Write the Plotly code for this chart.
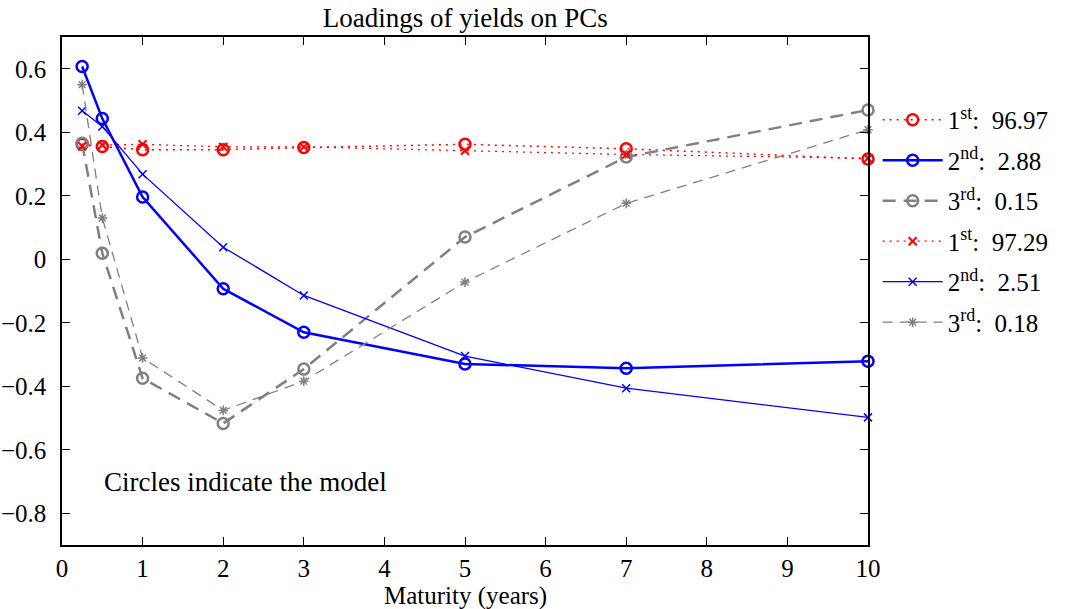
import plotly.graph_objects as go

# Maturities (years)
maturity = [0.25, 0.5, 1, 2, 3, 5, 7, 10]

# Model loadings (circles)
model_pc1 = [0.362, 0.355, 0.345, 0.345, 0.352, 0.362, 0.348, 0.316]
model_pc2 = [0.607, 0.443, 0.196, -0.093, -0.230, -0.330, -0.343, -0.321]
model_pc3 = [0.365, 0.019, -0.375, -0.517, -0.346, 0.070, 0.322, 0.470]

# Data loadings (crosses)
data_pc1 = [0.356, 0.360, 0.362, 0.354, 0.354, 0.342, 0.330, 0.318]
data_pc2 = [0.468, 0.418, 0.268, 0.038, -0.114, -0.305, -0.406, -0.498]
data_pc3 = [0.550, 0.130, -0.311, -0.476, -0.384, -0.072, 0.176, 0.408]

SUP = '<sup><span style="font-size:18px">{}</span></sup>'
legend_names = [
    "1" + SUP.format("st") + ":  96.97",
    "2" + SUP.format("nd") + ":  2.88",
    "3" + SUP.format("rd") + ":  0.15",
    "1" + SUP.format("st") + ":  97.29",
    "2" + SUP.format("nd") + ":  2.51",
    "3" + SUP.format("rd") + ":  0.18",
]

RED, BLUE, GRAY = "#ff0000", "#0000ff", "#808080"
FONT = "Liberation Serif"
DOT = "2px,5px"

fig = go.Figure()

series = [
    (model_pc1, legend_names[0], RED, DOT, 1.5, "circle-open", 11, 2.5),
    (model_pc2, legend_names[1], BLUE, "solid", 2.5, "circle-open", 11, 2.5),
    (model_pc3, legend_names[2], GRAY, "13px,8px", 2.5, "circle-open", 11, 2.5),
    (data_pc1, legend_names[3], RED, DOT, 1.2, "x-thin-open", 8, 2),
    (data_pc2, legend_names[4], BLUE, "solid", 1.3, "x-thin-open", 8, 1.5),
    (data_pc3, legend_names[5], GRAY, "10px,7px", 1.3, "asterisk-open", 8, 1.5),
]

for i, (y, name, col, dash, lw, sym, ms, mlw) in enumerate(series):
    fig.add_trace(go.Scatter(
        x=maturity, y=y, name=name, mode="lines+markers",
        legendgroup=f"g{i}",
        line=dict(color=col, dash=dash, width=lw),
        marker=dict(symbol=sym, size=ms, color=col, line=dict(color=col, width=mlw)),
        cliponaxis=False,
    ))

fig.add_annotation(
    x=0.5, y=-0.703, xref="x", yref="y", text="Circles indicate the model",
    showarrow=False, xanchor="left", yanchor="middle",
    font=dict(family=FONT, size=27, color="black"),
)

# x-axis title placed just below the tick labels
fig.add_annotation(
    x=0.5, y=-0.1, xref="paper", yref="paper", text="Maturity (years)",
    showarrow=False, xanchor="center", yanchor="middle",
    font=dict(family=FONT, size=25, color="black"),
)

axis_common = dict(
    showgrid=False, zeroline=False, showline=True, linecolor="black", linewidth=1.5,
    mirror="ticks", ticks="inside", ticklen=8, tickwidth=1, tickcolor="black",
    tickfont=dict(family=FONT, size=25, color="black"), automargin=False,
)

fig.update_xaxes(range=[0, 10], tickvals=list(range(0, 11)), ticklabelstandoff=0, **axis_common)
fig.update_yaxes(
    range=[-0.9, 0.7], tickvals=[-0.8, -0.6, -0.4, -0.2, 0, 0.2, 0.4, 0.6],
    ticklabelstandoff=9,
    **axis_common,
)

fig.update_layout(
    width=1072, height=609,
    margin=dict(l=62, r=204, t=37, b=64, autoexpand=False),
    paper_bgcolor="white", plot_bgcolor="white",
    title=dict(text="Loadings of yields on PCs", x=0.434, xanchor="center", y=0.972, yanchor="middle",
               font=dict(family=FONT, size=27, color="black")),
    legend=dict(
        x=1.012, y=0.882, xanchor="left", yanchor="top",
        font=dict(family=FONT, size=25, color="black"),
        itemwidth=60, tracegroupgap=5, bgcolor="rgba(0,0,0,0)",
    ),
    showlegend=True,
)

fig.write_html("out.html")
